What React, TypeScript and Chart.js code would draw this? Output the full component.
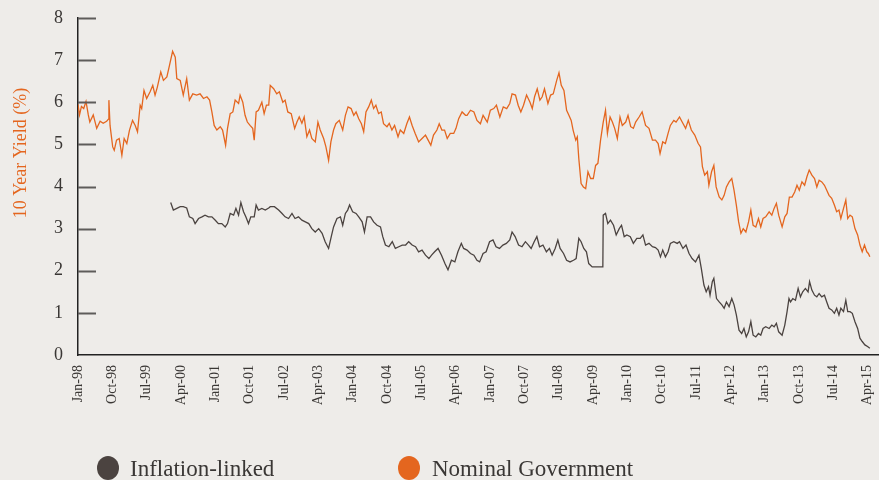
import React, { useEffect, useRef } from 'react';
import { Chart, registerables } from 'chart.js';

Chart.register(...registerables);

// x axis tick labels, one every 9 months starting Jan-98
const tickLabels = [
  'Jan-98', 'Oct-98', 'Jul-99', 'Apr-00', 'Jan-01', 'Oct-01', 'Jul-02', 'Apr-03',
  'Jan-04', 'Oct-04', 'Jul-05', 'Apr-06', 'Jan-07', 'Oct-07', 'Jul-08', 'Apr-09',
  'Jan-10', 'Oct-10', 'Jul-11', 'Apr-12', 'Jan-13', 'Oct-13', 'Jul-14', 'Apr-15',
];
const monthsPerTick = 9;
const yTickValues = [1, 2, 3, 4, 5, 6, 7, 8];

// [months since Jan-98, yield %]
const nominalGovernment: [number, number][] = [
  [0, 5.95], [0.4, 5.7], [0.9, 5.9], [1.5, 5.85], [2.1, 6.02], [2.7, 5.7], [3.1, 5.53], [4, 5.7],
  [4.9, 5.38], [5.8, 5.55], [6.6, 5.5], [7.5, 5.55], [8.0, 5.6], [8.1, 6.05], [8.4, 5.45], [9.1, 4.94],
  [9.5, 4.86], [10.1, 5.1], [10.8, 5.14], [11.5, 4.74], [12.1, 5.14], [12.8, 5.02], [13.5, 5.34], [14.3, 5.57],
  [15, 5.45], [15.6, 5.3], [16.3, 5.93], [16.7, 5.85], [17.3, 6.28], [18, 6.09], [18.9, 6.25], [19.6, 6.4],
  [20.2, 6.17], [20.8, 6.36], [21.7, 6.72], [22.4, 6.52], [23.3, 6.6], [24, 6.88], [24.8, 7.21], [25.5, 7.07],
  [25.9, 6.56], [26.8, 6.52], [27.6, 6.17], [28.5, 6.56], [29.2, 6.05], [30.1, 6.2], [31.1, 6.17], [32, 6.2],
  [32.9, 6.09], [33.8, 6.13], [34.5, 6.05], [35.1, 5.77], [35.7, 5.45], [36.4, 5.34], [37.3, 5.42], [37.9, 5.34],
  [38.7, 4.98], [39.2, 5.38], [39.9, 5.73], [40.6, 5.77], [41.2, 6.05], [42.1, 5.97], [42.5, 6.17], [43.2, 6.0],
  [43.8, 5.69], [44.4, 5.53], [45.1, 5.45], [45.8, 5.38], [46.2, 5.1], [46.7, 5.77], [47.3, 5.81], [48.2, 6.0],
  [48.8, 5.73], [49.4, 5.93], [50.0, 5.93], [50.4, 6.4], [51.3, 6.32], [52.1, 6.2], [52.8, 6.25], [53.7, 6.0],
  [54.3, 6.05], [55.0, 5.77], [55.9, 5.73], [56.8, 5.38], [57.4, 5.53], [58.0, 5.65], [58.7, 5.5], [59.3, 5.65],
  [60.0, 5.18], [60.7, 5.34], [61.3, 5.14], [62.2, 5.06], [62.9, 5.53], [63.5, 5.34], [64.4, 5.14], [65.0, 4.94],
  [65.7, 4.62], [66.3, 5.06], [67.0, 5.34], [67.6, 5.49], [68.5, 5.57], [69.4, 5.34], [70.1, 5.69], [70.8, 5.89],
  [71.6, 5.85], [72.3, 5.69], [72.9, 5.77], [73.6, 5.61], [74.3, 5.49], [74.9, 5.3], [75.5, 5.77], [76.2, 5.89],
  [76.9, 6.05], [77.5, 5.85], [78.1, 5.93], [78.8, 5.73], [79.5, 5.77], [80.1, 5.49], [81.0, 5.42], [81.6, 5.5],
  [82.3, 5.34], [83.0, 5.45], [83.9, 5.18], [84.5, 5.34], [85.4, 5.26], [86.2, 5.49], [86.9, 5.65], [87.6, 5.45],
  [88.4, 5.26], [89.3, 5.06], [90.2, 5.14], [91.1, 5.22], [91.8, 5.1], [92.5, 4.98], [93.2, 5.22], [94.1, 5.34],
  [94.7, 5.49], [95.4, 5.34], [96.1, 5.34], [96.8, 5.14], [97.6, 5.26], [98.5, 5.26], [99.1, 5.38], [99.8, 5.61],
  [100.7, 5.77], [101.6, 5.69], [102.0, 5.69], [102.9, 5.81], [103.8, 5.77], [104.6, 5.57], [105.5, 5.49], [106.2, 5.69],
  [107.3, 5.53], [108.1, 5.81], [109.0, 5.85], [109.7, 5.93], [110.6, 5.65], [111.5, 5.89], [112.4, 5.85], [113.2, 5.97],
  [113.8, 6.2], [114.7, 6.17], [115.4, 5.93], [116.1, 5.77], [116.8, 5.93], [117.6, 6.17], [118.5, 6.0], [119.1, 5.85],
  [119.7, 6.13], [120.4, 6.32], [121.1, 6.05], [121.7, 6.13], [122.3, 6.32], [123.2, 5.97], [123.9, 6.17], [124.6, 6.2],
  [125.5, 6.52], [126.1, 6.7], [126.7, 6.4], [127.4, 6.28], [128.1, 5.81], [128.7, 5.69], [129.3, 5.57], [129.8, 5.34],
  [130.5, 5.1], [130.9, 5.18], [131.3, 4.66], [131.9, 4.07], [132.5, 3.99], [133.1, 3.95], [133.7, 4.35], [134.4, 4.19],
  [135.1, 4.19], [135.7, 4.5], [136.3, 4.55], [137.0, 5.1], [137.7, 5.53], [138.3, 5.81], [138.8, 5.26], [139.5, 5.65],
  [140.1, 5.53], [140.7, 5.38], [141.4, 5.14], [142.1, 5.65], [142.7, 5.45], [143.6, 5.53], [144.2, 5.69], [144.9, 5.42],
  [145.6, 5.38], [146.2, 5.53], [147.1, 5.65], [147.9, 5.77], [148.8, 5.45], [149.7, 5.38], [150.6, 5.1], [151.4, 5.1],
  [152.1, 5.02], [152.6, 4.78], [153.3, 5.06], [154.0, 5.02], [154.7, 5.26], [155.3, 5.45], [156.2, 5.57], [156.8, 5.53],
  [157.7, 5.65], [158.4, 5.53], [159.3, 5.38], [160.0, 5.57], [160.8, 5.34], [161.7, 5.22], [162.6, 5.02], [163.2, 4.94],
  [163.7, 4.47], [164.3, 4.27], [165.0, 4.35], [165.4, 4.03], [166.1, 4.35], [166.7, 4.5], [167.3, 3.99], [168.1, 3.75],
  [168.8, 3.68], [169.4, 3.79], [170.0, 3.99], [170.7, 4.11], [171.4, 4.19], [172.0, 3.91], [172.6, 3.56], [173.2, 3.16],
  [173.8, 2.89], [174.4, 3.0], [175.1, 2.92], [175.8, 3.16], [176.4, 3.44], [177.0, 3.08], [177.7, 3.04], [178.4, 3.24],
  [179.0, 3.04], [179.6, 3.24], [180.3, 3.28], [181.2, 3.4], [181.9, 3.32], [182.5, 3.48], [183.1, 3.6], [183.7, 3.32],
  [184.6, 3.04], [185.3, 3.28], [185.9, 3.36], [186.5, 3.75], [187.2, 3.75], [187.9, 3.87], [188.5, 4.03], [189.1, 3.91],
  [189.8, 4.11], [190.5, 4.03], [191.1, 4.23], [191.7, 4.39], [192.4, 4.27], [193.1, 4.19], [193.7, 3.99], [194.3, 4.15],
  [195.0, 4.11], [195.7, 4.03], [196.3, 3.91], [196.9, 3.79], [197.6, 3.72], [198.3, 3.56], [198.9, 3.4], [199.5, 3.44],
  [200.0, 3.24], [200.7, 3.48], [201.3, 3.68], [201.8, 3.24], [202.4, 3.32], [203.0, 3.28], [203.7, 3.0], [204.4, 2.85],
  [205.0, 2.61], [205.6, 2.45], [206.2, 2.61], [206.8, 2.45], [207.2, 2.41], [207.6, 2.33],
];

// [months since Jan-98, yield %]
const inflationLinked: [number, number][] = [
  [24.3, 3.62], [25.0, 3.44], [25.9, 3.48], [26.8, 3.52], [27.6, 3.52], [28.5, 3.49], [29.2, 3.28], [30.1, 3.24],
  [30.7, 3.12], [31.6, 3.24], [32.5, 3.28], [33.3, 3.32], [34.2, 3.28], [35.1, 3.28], [36.0, 3.2], [36.8, 3.12],
  [37.7, 3.12], [38.6, 3.04], [39.2, 3.12], [39.9, 3.36], [40.8, 3.32], [41.4, 3.48], [42.1, 3.32], [42.7, 3.62],
  [43.4, 3.4], [44.0, 3.28], [44.7, 3.12], [45.3, 3.28], [46.2, 3.28], [46.7, 3.56], [47.3, 3.44], [48.2, 3.48],
  [49.1, 3.44], [50.0, 3.49], [50.4, 3.52], [51.5, 3.52], [52.6, 3.44], [53.5, 3.36], [54.3, 3.28], [55.2, 3.24],
  [56.1, 3.36], [56.9, 3.24], [57.8, 3.28], [58.7, 3.2], [59.6, 3.16], [60.5, 3.12], [61.3, 3.0], [62.2, 2.92],
  [63.1, 3.0], [64.0, 2.89], [64.8, 2.69], [65.7, 2.53], [66.4, 2.81], [67.0, 3.04], [67.9, 3.24], [68.8, 3.28],
  [69.4, 3.08], [70.1, 3.36], [70.7, 3.44], [71.2, 3.56], [72.0, 3.4], [72.9, 3.36], [73.6, 3.28], [74.5, 3.16],
  [75.1, 2.92], [75.8, 3.28], [76.7, 3.28], [77.5, 3.16], [78.4, 3.08], [79.3, 3.04], [79.9, 2.81], [80.6, 2.61],
  [81.5, 2.57], [82.4, 2.69], [83.2, 2.53], [84.1, 2.57], [85.0, 2.61], [85.9, 2.61], [86.7, 2.69], [87.6, 2.61],
  [88.5, 2.57], [89.3, 2.45], [90.2, 2.49], [91.1, 2.37], [92.0, 2.29], [92.7, 2.37], [93.5, 2.45], [94.4, 2.53],
  [95.3, 2.37], [96.2, 2.17], [97.0, 2.02], [97.9, 2.25], [98.8, 2.21], [99.6, 2.45], [100.5, 2.65], [101.1, 2.53],
  [102.0, 2.49], [102.9, 2.41], [103.8, 2.37], [104.6, 2.25], [105.3, 2.21], [106.2, 2.41], [107.0, 2.45], [107.9, 2.69],
  [108.8, 2.73], [109.6, 2.57], [110.5, 2.53], [111.4, 2.61], [112.3, 2.65], [113.2, 2.73], [113.8, 2.92], [114.6, 2.81],
  [115.5, 2.61], [116.4, 2.57], [117.3, 2.69], [118.1, 2.61], [118.8, 2.53], [119.6, 2.69], [120.3, 2.81], [121.0, 2.57],
  [121.9, 2.61], [122.8, 2.45], [123.6, 2.53], [124.3, 2.37], [125.1, 2.53], [125.8, 2.73], [126.4, 2.53], [127.3, 2.41],
  [128.1, 2.25], [129.0, 2.21], [129.9, 2.25], [130.6, 2.29], [131.3, 2.77], [131.9, 2.69], [132.6, 2.53], [133.3, 2.45],
  [133.9, 2.17], [134.8, 2.09], [135.7, 2.09], [136.8, 2.09], [137.6, 2.09], [137.7, 3.32], [138.3, 3.36], [138.9, 3.12],
  [139.6, 3.2], [140.4, 3.08], [141.1, 2.85], [141.9, 3.0], [142.5, 3.08], [143.2, 2.81], [143.9, 2.85], [144.8, 2.81],
  [145.6, 2.65], [146.5, 2.77], [147.4, 2.77], [148.1, 2.85], [148.8, 2.61], [149.7, 2.65], [150.6, 2.57], [151.4, 2.55],
  [152.1, 2.49], [152.7, 2.33], [153.3, 2.49], [154.0, 2.33], [154.7, 2.45], [155.3, 2.65], [156.2, 2.69], [157.1, 2.65],
  [157.7, 2.69], [158.6, 2.53], [159.4, 2.61], [160.2, 2.41], [161.0, 2.29], [161.9, 2.21], [162.8, 2.37], [163.4, 2.06],
  [164.1, 1.66], [164.7, 1.5], [165.3, 1.62], [165.7, 1.42], [166.3, 1.74], [166.7, 1.82], [167.4, 1.34], [168.1, 1.26],
  [168.8, 1.19], [169.4, 1.11], [170.0, 1.26], [170.7, 1.15], [171.4, 1.34], [172.0, 1.19], [172.6, 0.95], [173.3, 0.59],
  [174.0, 0.51], [174.6, 0.63], [175.2, 0.43], [175.8, 0.55], [176.4, 0.79], [177.0, 0.47], [177.7, 0.43], [178.4, 0.51],
  [179.0, 0.47], [179.6, 0.63], [180.3, 0.67], [181.2, 0.63], [181.9, 0.71], [182.5, 0.67], [183.1, 0.75], [183.7, 0.55],
  [184.6, 0.47], [185.3, 0.71], [185.9, 1.03], [186.4, 1.34], [186.8, 1.26], [187.4, 1.34], [188.1, 1.3], [188.8, 1.58],
  [189.4, 1.38], [190.0, 1.5], [190.7, 1.58], [191.4, 1.5], [191.8, 1.74], [192.4, 1.54], [193.1, 1.42], [193.7, 1.38],
  [194.3, 1.46], [195.0, 1.38], [195.7, 1.42], [196.3, 1.26], [196.9, 1.11], [197.6, 1.07], [198.3, 0.99], [198.9, 1.11],
  [199.5, 0.95], [200.0, 1.11], [200.7, 1.03], [201.3, 1.3], [201.8, 1.03], [202.4, 1.03], [203.0, 0.99], [203.7, 0.79],
  [204.4, 0.63], [205.0, 0.4], [205.6, 0.32], [206.3, 0.24], [207.0, 0.2], [207.6, 0.16],
];

const ORANGE = '#e4661f';
const DARK = '#4b4340';
const BG = '#eeece9';
const TEXT = '#3a3735';
const FONT = '"Liberation Serif", serif';

export default function App() {
  const ref = useRef<HTMLCanvasElement | null>(null);

  useEffect(() => {
    if (!ref.current) return;

    const decorations = {
      id: 'decorations',
      afterDraw(chart: any) {
        const { ctx, chartArea, scales } = chart;
        const y = scales.y;
        ctx.save();
        ctx.strokeStyle = '#5e5c5a';
        ctx.lineWidth = 2;
        for (const v of yTickValues) {
          const py = Math.round(y.getPixelForValue(v)) + 0.5;
          ctx.beginPath();
          ctx.moveTo(chartArea.left, py);
          ctx.lineTo(chartArea.left + 18, py);
          ctx.stroke();
        }
        // rotated y axis title
        ctx.fillStyle = ORANGE;
        ctx.font = `18px ${FONT}`;
        ctx.textAlign = 'center';
        ctx.textBaseline = 'middle';
        ctx.translate(21, 153);
        ctx.rotate(-Math.PI / 2);
        ctx.fillText('10 Year Yield (%)', 0, 0);
        ctx.restore();
      },
    };

    const chart = new Chart(ref.current, {
      type: 'line',
      data: {
        datasets: [
          {
            label: 'Nominal Government',
            data: nominalGovernment.map(([x, y]) => ({ x, y })),
            borderColor: ORANGE,
            borderWidth: 1.3,
            pointRadius: 0,
            fill: false,
            tension: 0,
          },
          {
            label: 'Inflation-linked',
            data: inflationLinked.map(([x, y]) => ({ x, y })),
            borderColor: DARK,
            borderWidth: 1.3,
            pointRadius: 0,
            fill: false,
            tension: 0,
          },
        ],
      },
      options: {
        responsive: false,
        animation: false,
        layout: { padding: { top: 18, right: 0, bottom: 0, left: 0 } },
        plugins: {
          legend: { display: false },
          tooltip: { enabled: false },
        },
        scales: {
          x: {
            type: 'linear',
            min: 0,
            max: 210,
            afterBuildTicks: (s: any) => {
              s.ticks = tickLabels.map((_, i) => ({ value: i * monthsPerTick }));
            },
            afterFit: (s: any) => {
              s.height = 125;
              s.paddingLeft = 0;
              s.paddingRight = 0;
            },
            ticks: {
              autoSkip: false,
              minRotation: 90,
              maxRotation: 90,
              padding: 10,
              color: TEXT,
              font: { family: FONT, size: 14 },
              callback: (_v: any, i: number) => tickLabels[i] ?? '',
            },
            grid: { display: false, drawTicks: false },
            border: { display: true, color: '#222', width: 1.5 },
          },
          y: {
            min: 0,
            max: 8,
            afterFit: (s: any) => {
              s.width = 78;
              s.paddingTop = 0;
              s.paddingBottom = 0;
            },
            ticks: {
              stepSize: 1,
              padding: 15,
              color: TEXT,
              font: { family: FONT, size: 18 },
            },
            grid: { display: false, drawTicks: false },
            border: { display: true, color: '#222', width: 1.5 },
          },
        },
      },
      plugins: [decorations],
    } as any);

    return () => chart.destroy();
  }, []);

  const legendText: React.CSSProperties = {
    position: 'absolute',
    top: 458,
    fontFamily: FONT,
    fontSize: 23,
    lineHeight: '22px',
    color: TEXT,
    whiteSpace: 'nowrap',
  };

  return (
    <div style={{ position: 'absolute', left: 0, top: 0, width: 879, height: 480, background: BG, overflow: 'hidden' }}>
      <canvas ref={ref} width={879} height={480} style={{ position: 'absolute', left: 0, top: 0 }} />
      <div style={{ position: 'absolute', left: 97, top: 456, width: 22, height: 24, borderRadius: '50%', background: DARK }} />
      <div style={{ ...legendText, left: 130 }}>Inflation-linked</div>
      <div style={{ position: 'absolute', left: 398, top: 456, width: 22, height: 24, borderRadius: '50%', background: ORANGE }} />
      <div style={{ ...legendText, left: 432 }}>Nominal Government</div>
    </div>
  );
}
